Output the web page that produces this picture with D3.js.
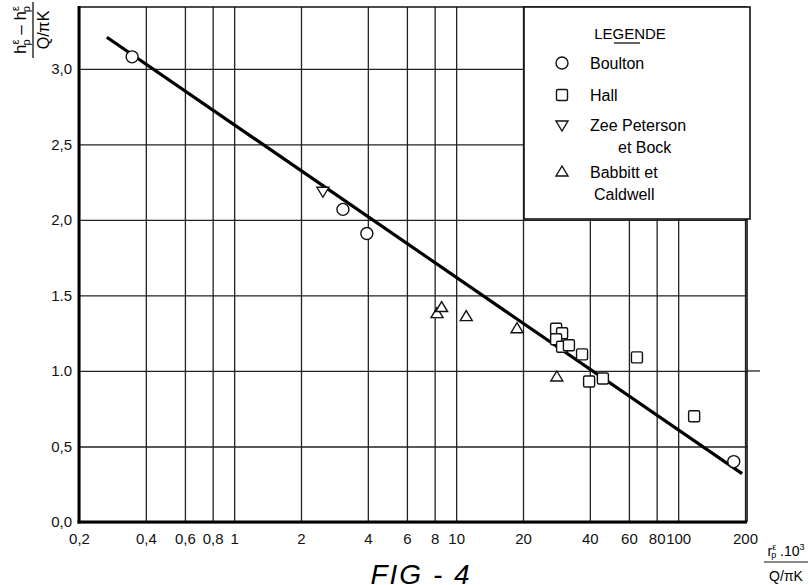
<!DOCTYPE html>
<html>
<head>
<meta charset="utf-8">
<script src="https://cdn.jsdelivr.net/npm/d3@7"></script>
<style>
  body { margin: 0; background: #fff; }
  svg { font-family: "Liberation Sans", Arial, sans-serif; }
  .grid line { stroke: #222; stroke-width: 1.3; }
  .grid path { display: none; }
  .tick text { font-size: 15px; fill: #111; }
</style>
</head>
<body>
<script>
var width = 809;
var height = 585;

// plot box in page pixels
var box = { left: 79, right: 747, top: 7, bottom: 522 };

// tick values and labels as printed on the figure
var xTicks = [0.2, 0.4, 0.6, 0.8, 1, 2, 4, 6, 8, 10, 20, 40, 60, 80, 100, 200];
var xTickLabels = ["0,2", "0,4", "0,6", "0,8", "1", "2", "4", "6", "8", "10", "20", "40", "60", "80", "100", "200"];
var yTicks = [0, 0.5, 1, 1.5, 2, 2.5, 3];
var yTickLabels = ["0,0", "0,5", "1.0", "1.5", "2,0", "2,5", "3,0"];

// measured points [x, y]
var boulton = [[0.347, 3.08], [3.09, 2.07], [3.96, 1.91], [178, 0.40]];
var hall = [[28.2, 1.28], [30.0, 1.25], [28.2, 1.21], [30.0, 1.16], [32.2, 1.17],
            [36.9, 1.11], [39.7, 0.93], [45.8, 0.95], [65.2, 1.09], [118, 0.70]];
var zeePeterson = [[2.51, 2.19]];
var babbitt = [[8.2, 1.38], [8.6, 1.42], [11.1, 1.36], [18.8, 1.28], [28.4, 0.96]];

// fitted straight line (end points)
var fitLine = [[0.267, 3.21], [194, 0.32]];

var legendItems = [
  { sym: "circle", lines: ["Boulton"] },
  { sym: "square", lines: ["Hall"] },
  { sym: "down", lines: ["Zee Peterson", "et Bock"] },
  { sym: "up", lines: ["Babbitt et", "Caldwell"] }
];

var xScale = d3.scaleLog()
  .domain([0.2, 200])
  .range([box.left, box.right - 2]);

var yScale = d3.scaleLinear()
  .domain([0, 3.41])
  .range([box.bottom, box.top]);

var svg = d3.select("body")
  .append("svg")
  .attr("width", width)
  .attr("height", height);

// grid lines drawn by the axes themselves
var xAxis = d3.axisBottom(xScale)
  .tickValues(xTicks)
  .tickFormat(function(d, i) { return xTickLabels[i]; })
  .tickSizeInner(-(box.bottom - box.top))
  .tickSizeOuter(0)
  .tickPadding(8);

var yAxis = d3.axisLeft(yScale)
  .tickValues(yTicks)
  .tickFormat(function(d, i) { return yTickLabels[i]; })
  .tickSizeInner(-(box.right - box.left))
  .tickSizeOuter(0)
  .tickPadding(7);

var gx = svg.append("g")
  .attr("class", "grid")
  .attr("transform", "translate(0," + box.bottom + ")")
  .call(xAxis);
gx.selectAll(".tick text").attr("dy", "0.9em");

var gy = svg.append("g")
  .attr("class", "grid")
  .attr("transform", "translate(" + box.left + ",0)")
  .call(yAxis);
gy.selectAll(".tick text").attr("x", -7);

// the 1.0 gridline runs a little past the frame
svg.append("line")
  .attr("x1", box.right).attr("x2", 760)
  .attr("y1", yScale(1)).attr("y2", yScale(1))
  .attr("stroke", "#222").attr("stroke-width", 1.3);

// frame
svg.append("line").attr("x1", box.left).attr("x2", box.right)
  .attr("y1", box.top).attr("y2", box.top)
  .attr("stroke", "#111").attr("stroke-width", 1.6);
svg.append("line").attr("x1", box.right).attr("x2", box.right)
  .attr("y1", box.top).attr("y2", box.bottom)
  .attr("stroke", "#111").attr("stroke-width", 1.6);
svg.append("line").attr("x1", box.left).attr("x2", box.left)
  .attr("y1", box.top - 1).attr("y2", box.bottom + 1.5)
  .attr("stroke", "#000").attr("stroke-width", 3);
svg.append("line").attr("x1", box.left - 1.5).attr("x2", box.right)
  .attr("y1", box.bottom).attr("y2", box.bottom)
  .attr("stroke", "#000").attr("stroke-width", 3);

// fitted line
var line = d3.line()
  .x(function(d) { return xScale(d[0]); })
  .y(function(d) { return yScale(d[1]); });

svg.append("path")
  .datum(fitLine)
  .attr("d", line)
  .attr("fill", "none")
  .attr("stroke", "#000")
  .attr("stroke-width", 3.2);

// marker shapes
function drawSymbol(g, kind, cx, cy) {
  var s;
  if (kind === "circle") {
    s = g.append("circle").attr("cx", cx).attr("cy", cy).attr("r", 6);
  } else if (kind === "square") {
    s = g.append("rect").attr("x", cx - 5.5).attr("y", cy - 5.5)
      .attr("width", 11).attr("height", 11).attr("rx", 1.5);
  } else if (kind === "down") {
    s = g.append("path").attr("d", "M" + (cx - 6) + "," + (cy - 4) + "L" + (cx + 6) + "," + (cy - 4) + "L" + cx + "," + (cy + 6) + "Z");
  } else {
    s = g.append("path").attr("d", "M" + (cx - 6) + "," + (cy + 4) + "L" + (cx + 6) + "," + (cy + 4) + "L" + cx + "," + (cy - 6) + "Z");
  }
  s.attr("fill", "#fff").attr("stroke", "#111").attr("stroke-width", 1.4);
}

var marks = svg.append("g");
[[boulton, "circle"], [hall, "square"], [zeePeterson, "down"], [babbitt, "up"]].forEach(function(set) {
  set[0].forEach(function(d) {
    drawSymbol(marks, set[1], xScale(d[0]), yScale(d[1]));
  });
});

// legend box
var leg = svg.append("g");
leg.append("rect")
  .attr("x", 524).attr("y", box.top)
  .attr("width", 226).attr("height", 212)
  .attr("fill", "#fff")
  .attr("stroke", "#111")
  .attr("stroke-width", 1.6);

leg.append("text")
  .attr("x", 630).attr("y", 39)
  .attr("text-anchor", "middle")
  .attr("font-size", 15)
  .text("LEGENDE");
leg.append("line")
  .attr("x1", 614).attr("x2", 640)
  .attr("y1", 43).attr("y2", 43)
  .attr("stroke", "#111").attr("stroke-width", 1.3);

var rowY = [63, 95, 125, 172];
legendItems.forEach(function(item, i) {
  drawSymbol(leg, item.sym, 562, rowY[i]);
  item.lines.forEach(function(t, j) {
    leg.append("text")
      .attr("x", j === 0 ? 590 : (i === 2 ? 618 : 594))
      .attr("y", rowY[i] + 6 + j * 22)
      .attr("font-size", 16)
      .text(t);
  });
});

// y axis title (rotated fraction)
var yt = svg.append("g").attr("transform", "translate(33,30) rotate(-90)");
var num = yt.append("text").attr("x", 0).attr("y", -7)
  .attr("text-anchor", "middle").attr("font-size", 17);
num.append("tspan").text("h");
num.append("tspan").attr("font-size", 11).attr("dy", -7).text("ε");
num.append("tspan").attr("font-size", 11).attr("dx", -6).attr("dy", 11).text("p");
num.append("tspan").attr("dy", -4).text(" – h");
num.append("tspan").attr("font-size", 11).attr("dy", -7).text("ε");
num.append("tspan").attr("font-size", 11).attr("dx", -6).attr("dy", 11).text("p");
yt.append("line").attr("x1", -28).attr("x2", 28).attr("y1", 0).attr("y2", 0)
  .attr("stroke", "#111").attr("stroke-width", 1.3);
yt.append("text").attr("x", 0).attr("y", 16)
  .attr("text-anchor", "middle").attr("font-size", 16)
  .text("Q/πK");

// x axis title (fraction)
var xt = svg.append("g").attr("transform", "translate(786,562)");
var xn = xt.append("text").attr("x", 0).attr("y", -6)
  .attr("text-anchor", "middle").attr("font-size", 14);
xn.append("tspan").text("r");
xn.append("tspan").attr("font-size", 9).attr("dy", -6).text("ε");
xn.append("tspan").attr("font-size", 9).attr("dx", -5).attr("dy", 8).text("p");
xn.append("tspan").attr("dy", -2).text(" .10");
xn.append("tspan").attr("font-size", 9).attr("dy", -6).text("3");
xt.append("line").attr("x1", -22).attr("x2", 22).attr("y1", 0).attr("y2", 0)
  .attr("stroke", "#111").attr("stroke-width", 1.2);
xt.append("text").attr("x", 0).attr("y", 19)
  .attr("text-anchor", "middle").attr("font-size", 14)
  .text("Q/πK");

// figure caption
svg.append("text")
  .attr("x", 421).attr("y", 584)
  .attr("text-anchor", "middle")
  .attr("font-size", 28)
  .attr("font-style", "italic")
  .attr("letter-spacing", 2)
  .text("FIG - 4");
</script>
</body>
</html>
